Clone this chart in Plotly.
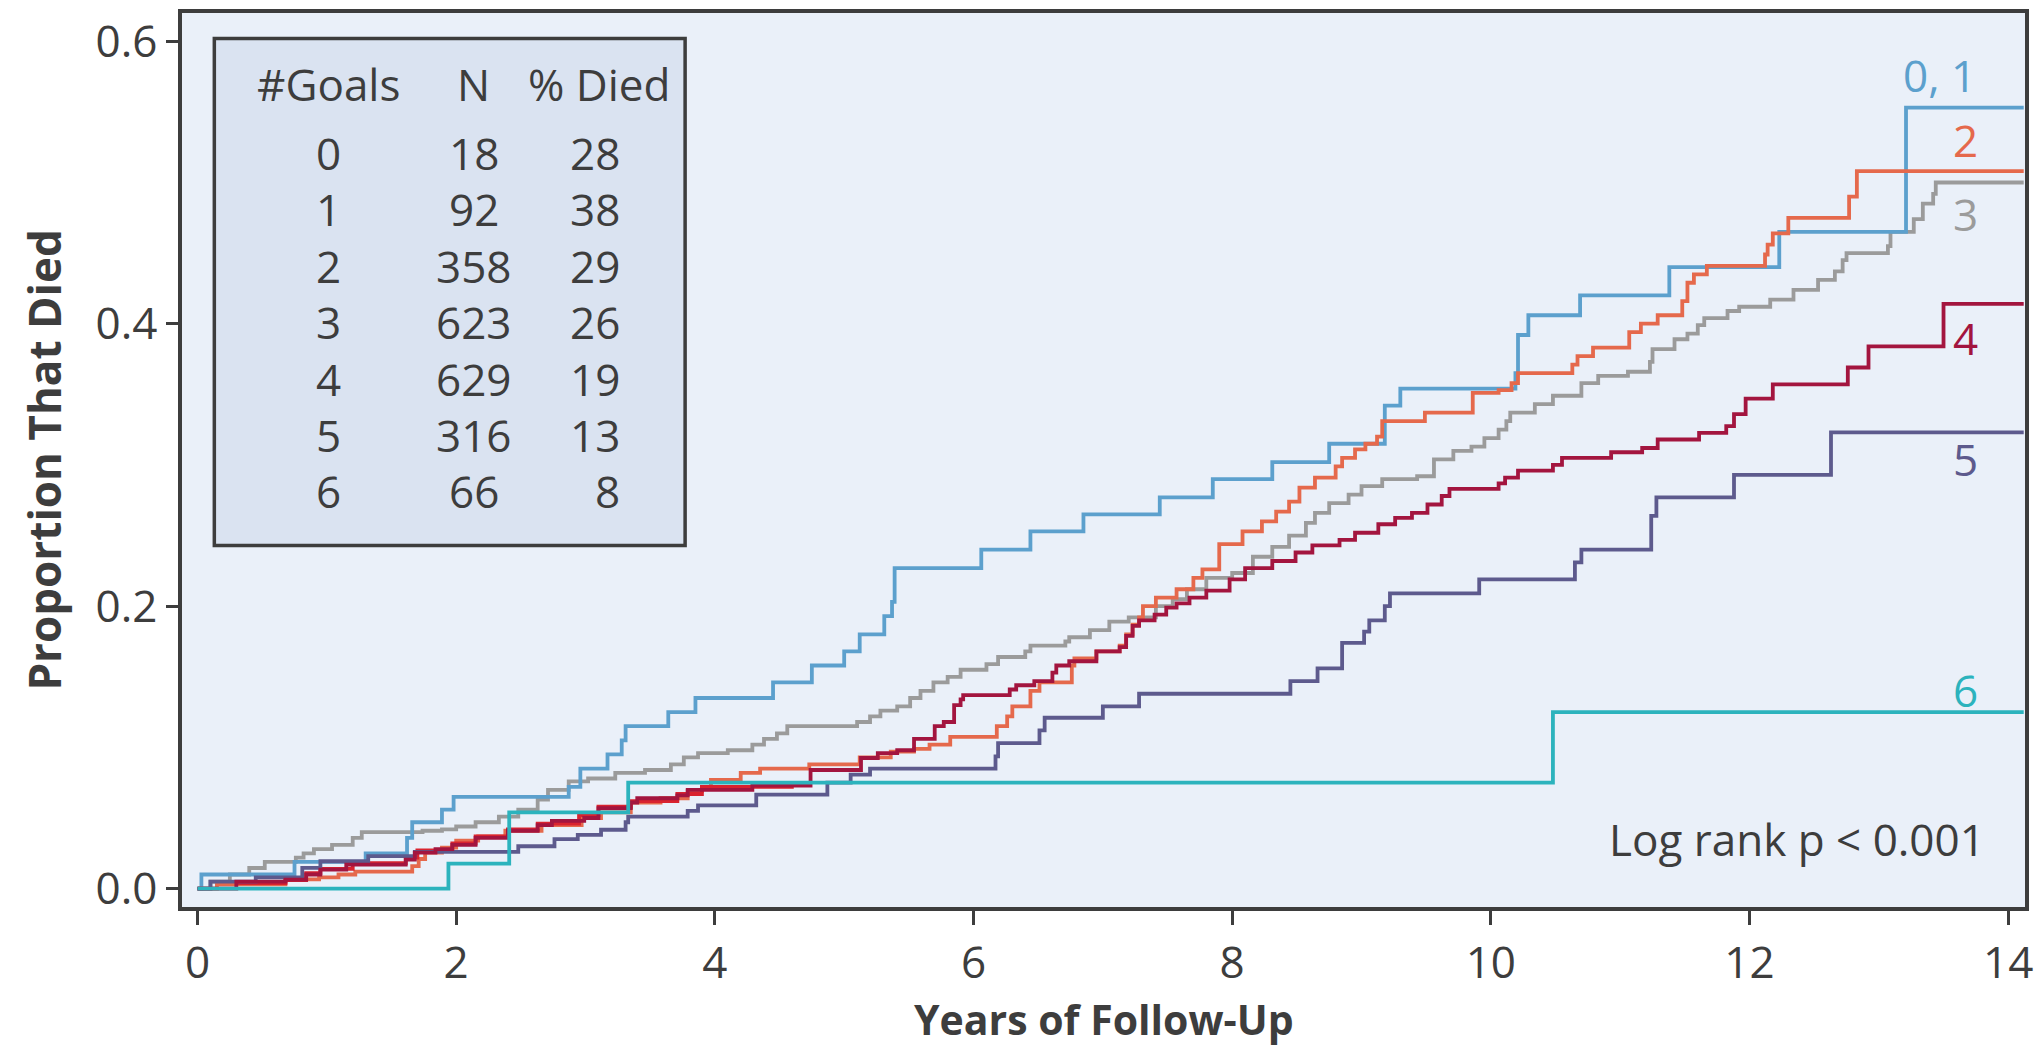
import plotly.graph_objects as go

# ---------------- data ----------------
T_END = 14.12

# group "0,1"
t01 = [0, 0.03, 0.75, 1.30, 1.62, 1.66, 1.89, 1.98, 2.87, 2.96, 3.17, 3.28, 3.31, 3.64, 3.85,
       4.45, 4.75, 5.00, 5.12, 5.31, 5.37, 5.39, 6.06, 6.44, 6.85, 7.44, 7.85, 8.31, 8.75,
       9.18, 9.30, 10.19, 10.21, 10.29, 10.69, 11.38, 12.23, 13.21]
p01 = [0, 0.010, 0.019, 0.025, 0.036, 0.047, 0.056, 0.065, 0.072, 0.085, 0.095, 0.105, 0.115, 0.125, 0.135,
       0.146, 0.158, 0.168, 0.180, 0.193, 0.203, 0.227, 0.240, 0.253, 0.265, 0.277, 0.290, 0.302, 0.315,
       0.342, 0.354, 0.365, 0.392, 0.406, 0.420, 0.440, 0.465, 0.553]

# group 2
t2 = [0, 0.15, 0.68, 0.94, 1.09, 1.22, 1.66, 1.71, 1.76, 1.89, 2.00, 2.17, 2.38, 2.66, 2.97, 3.12,
      3.35, 3.58, 3.79, 3.90, 3.97, 4.20, 4.35, 4.73, 5.12, 5.36, 5.54, 5.66, 5.82, 6.18, 6.26,
      6.30, 6.44, 6.51, 6.76, 6.78, 6.95, 7.13, 7.18, 7.23, 7.28, 7.31, 7.41, 7.57, 7.70, 7.77,
      7.90, 8.08, 8.23, 8.34, 8.44, 8.52, 8.64, 8.80, 8.85, 8.95, 9.03, 9.12, 9.16, 9.49, 9.86,
      10.06, 10.16, 10.21, 10.63, 10.67, 10.79, 11.07, 11.16, 11.29, 11.48, 11.52, 11.57, 11.67,
      12.12, 12.14, 12.18, 12.30, 12.77, 12.83]
p2 = [0, 0.003, 0.0066, 0.008, 0.010, 0.012, 0.016, 0.021, 0.0255, 0.029, 0.034, 0.037, 0.041, 0.045, 0.050, 0.054,
      0.061, 0.064, 0.069, 0.072, 0.077, 0.082, 0.085, 0.088, 0.093, 0.097, 0.099, 0.102, 0.1075, 0.115, 0.122,
      0.129, 0.140, 0.146, 0.158, 0.163, 0.168, 0.172, 0.180, 0.187, 0.192, 0.200, 0.206, 0.212, 0.220, 0.226,
      0.244, 0.253, 0.260, 0.267, 0.274, 0.284, 0.291, 0.299, 0.305, 0.311, 0.315, 0.320, 0.331, 0.337, 0.351,
      0.353, 0.358, 0.365, 0.371, 0.377, 0.383, 0.394, 0.400, 0.406, 0.416, 0.429, 0.435, 0.441,
      0.449, 0.456, 0.464, 0.475, 0.490, 0.508]

# group 3
t3 = [0, 0.10, 0.25, 0.40, 0.52, 0.76, 0.82, 0.90, 1.04, 1.20, 1.27, 1.74, 1.89, 2.00, 2.15, 2.33, 2.48,
      2.63, 2.71, 2.87, 3.02, 3.23, 3.46, 3.66, 3.76, 3.87, 4.10, 4.29, 4.38, 4.48, 4.56, 5.10, 5.20,
      5.28, 5.41, 5.51, 5.59, 5.69, 5.80, 5.90, 6.10, 6.19, 6.40, 6.44, 6.71, 6.74, 6.90, 7.05, 7.20,
      7.41, 7.54, 7.65, 7.80, 8.00, 8.16, 8.31, 8.44, 8.57, 8.64, 8.75, 8.90, 9.00, 9.16, 9.43, 9.56,
      9.71, 9.85, 9.95, 10.06, 10.12, 10.15, 10.34, 10.48, 10.70, 10.83, 11.06, 11.23, 11.25, 11.42,
      11.52, 11.60, 11.65, 11.83, 11.92, 12.16, 12.34, 12.53, 12.66, 12.72, 12.75, 13.07, 13.09, 13.27,
      13.34, 13.42, 13.44]
p3 = [0, 0.005, 0.010, 0.0146, 0.019, 0.022, 0.025, 0.028, 0.031, 0.036, 0.040, 0.041, 0.042, 0.044, 0.047, 0.051, 0.056,
      0.063, 0.070, 0.076, 0.078, 0.082, 0.084, 0.088, 0.093, 0.096, 0.098, 0.102, 0.106, 0.110, 0.115, 0.118, 0.122,
      0.126, 0.129, 0.135, 0.140, 0.146, 0.150, 0.155, 0.159, 0.164, 0.168, 0.172, 0.175, 0.178, 0.183, 0.189, 0.192,
      0.200, 0.205, 0.212, 0.220, 0.2235, 0.235, 0.242, 0.250, 0.259, 0.266, 0.273, 0.279, 0.285, 0.290, 0.292, 0.304,
      0.310, 0.313, 0.319, 0.325, 0.331, 0.337, 0.343, 0.349, 0.358, 0.363, 0.366, 0.373, 0.382, 0.389,
      0.393, 0.399, 0.404, 0.409, 0.412, 0.417, 0.424, 0.431, 0.437, 0.445, 0.450, 0.455, 0.465, 0.474,
      0.485, 0.492, 0.500]

# group 4
t4 = [0, 0.30, 0.68, 0.84, 0.95, 1.15, 1.61, 1.68, 1.84, 1.97, 2.15, 2.40, 2.63, 2.74, 2.99, 3.10, 3.35,
      3.40, 3.71, 3.79, 4.29, 4.74, 5.13, 5.26, 5.41, 5.54, 5.70, 5.77, 5.85, 5.90, 5.92, 6.28, 6.33,
      6.47, 6.61, 6.64, 6.74, 6.95, 7.13, 7.18, 7.23, 7.28, 7.40, 7.49, 7.57, 7.67, 7.80, 7.98, 8.10,
      8.31, 8.49, 8.62, 8.83, 8.95, 9.13, 9.26, 9.39, 9.51, 9.62, 9.68, 10.06, 10.11, 10.21, 10.48,
      10.55, 10.93, 11.17, 11.29, 11.61, 11.82, 11.88, 11.97, 12.18, 12.76, 12.92, 13.50]
p4 = [0, 0.005, 0.0064, 0.010, 0.0135, 0.017, 0.0206, 0.0255, 0.028, 0.031, 0.036, 0.041, 0.045, 0.048, 0.050, 0.057, 0.061,
      0.064, 0.066, 0.070, 0.073, 0.084, 0.0925, 0.096, 0.098, 0.106, 0.115, 0.118, 0.130, 0.134, 0.137, 0.141, 0.144,
      0.147, 0.153, 0.158, 0.161, 0.168, 0.171, 0.179, 0.186, 0.190, 0.194, 0.199, 0.202, 0.206, 0.211, 0.219, 0.227,
      0.232, 0.238, 0.243, 0.247, 0.252, 0.258, 0.2625, 0.266, 0.272, 0.278, 0.283, 0.287, 0.291, 0.296, 0.300,
      0.305, 0.309, 0.312, 0.318, 0.3227, 0.3275, 0.336, 0.347, 0.357, 0.369, 0.384, 0.414]

# group 5
t5 = [0, 0.10, 0.45, 0.81, 0.95, 1.32, 1.68, 2.48, 2.76, 2.94, 3.12, 3.31, 3.33, 3.79, 3.87, 4.32, 4.87,
      5.05, 5.20, 6.17, 6.19, 6.51, 6.55, 7.00, 7.28, 8.45, 8.66, 8.85, 9.02, 9.06, 9.18, 9.22, 9.91,
      10.65, 10.70, 11.24, 11.28, 11.88, 12.63]
p5 = [0, 0.005, 0.008, 0.0147, 0.0194, 0.023, 0.026, 0.030, 0.035, 0.038, 0.0417, 0.047, 0.051, 0.055, 0.059, 0.0666, 0.075,
      0.0807, 0.085, 0.0937, 0.103, 0.112, 0.121, 0.129, 0.138, 0.147, 0.156, 0.174, 0.182, 0.190, 0.200, 0.209, 0.219,
      0.231, 0.240, 0.264, 0.277, 0.293, 0.323]

# group 6
t6 = [0, 1.94, 2.41, 3.33, 10.48]
p6 = [0, 0.0177, 0.054, 0.075, 0.125]

# short extra curve (bright red) that stops at 4.6 years
tx = [0.30, 0.68, 0.84, 0.95, 1.20, 1.61, 1.70, 1.97, 2.15, 2.40, 2.63, 2.95, 3.10, 3.35, 3.71, 3.90, 4.61]
px = [0.004, 0.006, 0.011, 0.014, 0.018, 0.022, 0.027, 0.032, 0.037, 0.042, 0.046, 0.052, 0.058, 0.062, 0.067, 0.072, 0.072]

# table
tbl_goals = ["0", "1", "2", "3", "4", "5", "6"]
tbl_n = ["18", "92", "358", "623", "629", "316", "66"]
tbl_died = ["28", "38", "29", "26", "19", "13", "8"]

x_ticks = [0, 2, 4, 6, 8, 10, 12, 14]
y_ticks = [0.0, 0.2, 0.4, 0.6]
y_ticktext = ["0.0", "0.2", "0.4", "0.6"]

# ---------------- style ----------------
C01 = "#5ca0cd"
C2 = "#e5694c"
C3 = "#9b9b9b"
C4 = "#a3153f"
C5 = "#5d5a8d"
C6 = "#2cb3bd"
CX = "#d9232f"
DARK = "#3d3d3d"
FONT = "Open Sans"
LW = 3.8

fig = go.Figure()


def add_curve(t, p, color, extend=True):
    xs = list(t)
    ys = list(p)
    if extend:
        xs = xs + [T_END]
        ys = ys + [p[-1]]
    fig.add_trace(go.Scatter(x=xs, y=ys, mode="lines", line=dict(color=color, width=LW, shape="hv"),
                             showlegend=False, hoverinfo="skip"))


add_curve(t3, p3, C3)
add_curve(t01, p01, C01)
add_curve(t2, p2, C2)
add_curve(tx, px, CX, extend=False)
add_curve(t5, p5, C5)
add_curve(t4, p4, C4)
add_curve(t6, p6, C6)

# table box
fig.add_shape(type="rect", xref="x", yref="y", x0=0.13, x1=3.77, y0=0.243, y1=0.602,
              fillcolor="#dae3f1", line=dict(color=DARK, width=3.5), layer="below")

ann = []
hdr_y = 0.5695
row_y0 = 0.5212
row_dy = 0.0400
col_goal = 1.01
col_n = 2.137
col_died_r = 3.282
TF = 44
ann.append(dict(x=col_goal, y=hdr_y, text="#Goals", xanchor="center"))
ann.append(dict(x=col_n, y=hdr_y, text="N", xanchor="center"))
ann.append(dict(x=3.106, y=hdr_y, text="% Died", xanchor="center"))
for i in range(len(tbl_goals)):
    yy = row_y0 - i * row_dy
    ann.append(dict(x=col_goal, y=yy, text=tbl_goals[i], xanchor="center"))
    ann.append(dict(x=col_n, y=yy, text=tbl_n[i], xanchor="center"))
    ann.append(dict(x=col_died_r, y=yy, text=tbl_died[i], xanchor="right"))
for a in ann:
    fig.add_annotation(xref="x", yref="y", yanchor="middle", showarrow=False,
                       font=dict(family=FONT, size=TF, color=DARK), **a)

# curve labels
labels = [("0, 1", 13.47, 0.576, C01), ("2", 13.67, 0.530, C2), ("3", 13.67, 0.478, C3),
          ("4", 13.67, 0.390, C4), ("5", 13.67, 0.304, C5), ("6", 13.67, 0.141, C6)]
for txt, lx, ly, col in labels:
    fig.add_annotation(x=lx, y=ly, xref="x", yref="y", text=txt, showarrow=False,
                       xanchor="center", yanchor="middle", font=dict(family=FONT, size=44, color=col))

fig.add_annotation(x=13.84, y=0.035, xref="x", yref="y", text="Log rank p < 0.001", showarrow=False,
                   xanchor="right", yanchor="middle", font=dict(family=FONT, size=44, color=DARK))

# axis titles
fig.add_annotation(x=0.5, y=-0.1255, xref="paper", yref="paper", text="<b>Years of Follow-Up</b>",
                   showarrow=False, xanchor="center", yanchor="middle",
                   font=dict(family=FONT, size=41, color=DARK))
fig.add_annotation(x=-0.0751, y=0.5, xref="paper", yref="paper", text="<b>Proportion That Died</b>",
                   showarrow=False, xanchor="center", yanchor="middle", textangle=-90,
                   font=dict(family=FONT, size=44, color=DARK))

axis_common = dict(showline=True, linewidth=3.5, linecolor=DARK, mirror=True, showgrid=False,
                   zeroline=False, ticks="outside", tickwidth=3, tickcolor=DARK,
                   tickfont=dict(family=FONT, size=44, color=DARK))

fig.update_layout(
    width=2042, height=1047,
    margin=dict(l=182, r=9, t=12, b=140),
    paper_bgcolor="white", plot_bgcolor="#eaf0f9",
    showlegend=False,
    xaxis=dict(range=[-0.12, 14.13], tickvals=x_ticks, ticklen=14, **axis_common),
    yaxis=dict(range=[-0.013, 0.62], tickvals=y_ticks, ticktext=y_ticktext, ticklen=12, **axis_common),
)

fig.write_html("out.html")
